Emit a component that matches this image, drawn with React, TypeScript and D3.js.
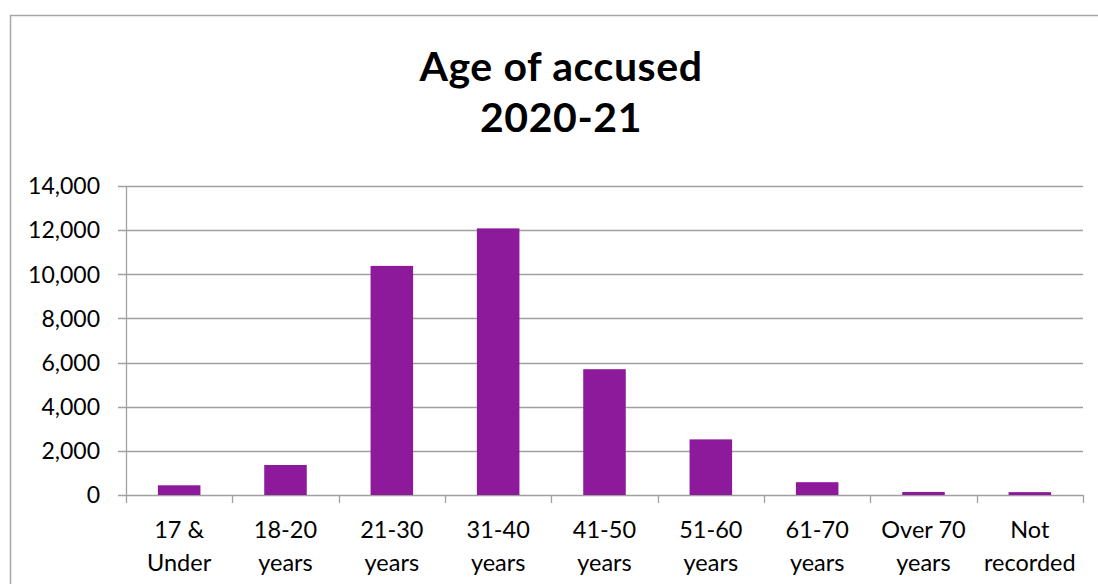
import { useEffect, useRef } from "react";
import * as d3 from "d3";

const categories = [
  ["17 &", "Under"],
  ["18-20", "years"],
  ["21-30", "years"],
  ["31-40", "years"],
  ["41-50", "years"],
  ["51-60", "years"],
  ["61-70", "years"],
  ["Over 70", "years"],
  ["Not", "recorded"],
];
const values = [440, 1360, 10380, 12080, 5700, 2520, 580, 140, 130];
const yTicks = [0, 2000, 4000, 6000, 8000, 10000, 12000, 14000];
const titleLines = ["Age of accused", "2020-21"];

export default function App() {
  const ref = useRef<SVGSVGElement | null>(null);

  useEffect(() => {
    if (!ref.current) return;
    const W = 1098;
    const H = 584;
    const margin = { top: 186, right: 15, bottom: 89, left: 126 };
    const width = W - margin.left - margin.right;
    const height = H - margin.top - margin.bottom;
    const font = "Lato, 'Open Sans', sans-serif";

    const root = d3.select(ref.current);
    root.selectAll("*").remove();
    root.attr("width", W).attr("height", H);

    root
      .append("rect")
      .attr("x", 10.5)
      .attr("y", 15.5)
      .attr("width", W + 20)
      .attr("height", H + 20)
      .attr("fill", "white")
      .attr("stroke", "#a6a6a6")
      .attr("stroke-width", 1.5);

    root
      .append("g")
      .selectAll("text")
      .data(titleLines)
      .join("text")
      .attr("x", 561)
      .attr("y", (_, i) => 81 + i * 51)
      .attr("text-anchor", "middle")
      .attr("font-family", font)
      .attr("font-weight", "bold")
      .attr("font-size", 41)
      .attr("letter-spacing", 0.6)
      .attr("fill", "#000")
      .text((d) => d);

    const svg = root
      .append("g")
      .attr("transform", `translate(${margin.left},${margin.top})`);

    const x = d3
      .scaleBand<number>()
      .domain(d3.range(categories.length))
      .range([0, width])
      .paddingInner(0.6)
      .paddingOuter(0.3);

    const band = width / categories.length;

    const y = d3.scaleLinear().domain([0, 14000]).range([height, 0]);

    // gridlines
    svg
      .append("g")
      .selectAll("line")
      .data(yTicks)
      .join("line")
      .attr("x1", -8)
      .attr("x2", width)
      .attr("y1", (d) => Math.round(y(d)) + 0.5)
      .attr("y2", (d) => Math.round(y(d)) + 0.5)
      .attr("stroke", "#a0a0a0")
      .attr("stroke-width", 1.3);

    // y axis line
    svg
      .append("line")
      .attr("x1", 0.5)
      .attr("x2", 0.5)
      .attr("y1", 0)
      .attr("y2", height + 8)
      .attr("stroke", "#a0a0a0")
      .attr("stroke-width", 1.3);

    // x ticks
    svg
      .append("g")
      .selectAll("line")
      .data(d3.range(1, categories.length + 1))
      .join("line")
      .attr("x1", (d) => Math.round(d * band) + 0.5)
      .attr("x2", (d) => Math.round(d * band) + 0.5)
      .attr("y1", height)
      .attr("y2", height + 8)
      .attr("stroke", "#a0a0a0")
      .attr("stroke-width", 1.3);

    svg
      .append("g")
      .selectAll("rect")
      .data(values)
      .join("rect")
      .attr("x", (_, i) => x(i)!)
      .attr("width", x.bandwidth())
      .attr("y", (d) => y(d))
      .attr("height", (d) => height - y(d))
      .attr("fill", "#8c1a9b");

    // y labels
    svg
      .append("g")
      .selectAll("text")
      .data(yTicks)
      .join("text")
      .attr("x", -26)
      .attr("y", (d) => y(d))
      .attr("dy", "0.36em")
      .attr("text-anchor", "end")
      .attr("font-family", font)
      .attr("font-size", 23)
      .attr("fill", "#000")
      .text((d) => d3.format(",")(d));

    // x labels
    const xl = svg
      .append("g")
      .selectAll("text")
      .data(categories)
      .join("text")
      .attr("text-anchor", "middle")
      .attr("font-family", font)
      .attr("font-size", 23.5)
      .attr("fill", "#000");
    xl.selectAll("tspan")
      .data((d, i) => d.map((t) => ({ t, i })))
      .join("tspan")
      .attr("x", (d) => x(d.i)! + x.bandwidth() / 2)
      .attr("y", (_, j) => height + 43 + j * 33)
      .text((d) => d.t);
  }, []);

  return (
    <svg
      ref={ref}
      style={{ position: "absolute", left: 0, top: 0, display: "block" }}
    />
  );
}
